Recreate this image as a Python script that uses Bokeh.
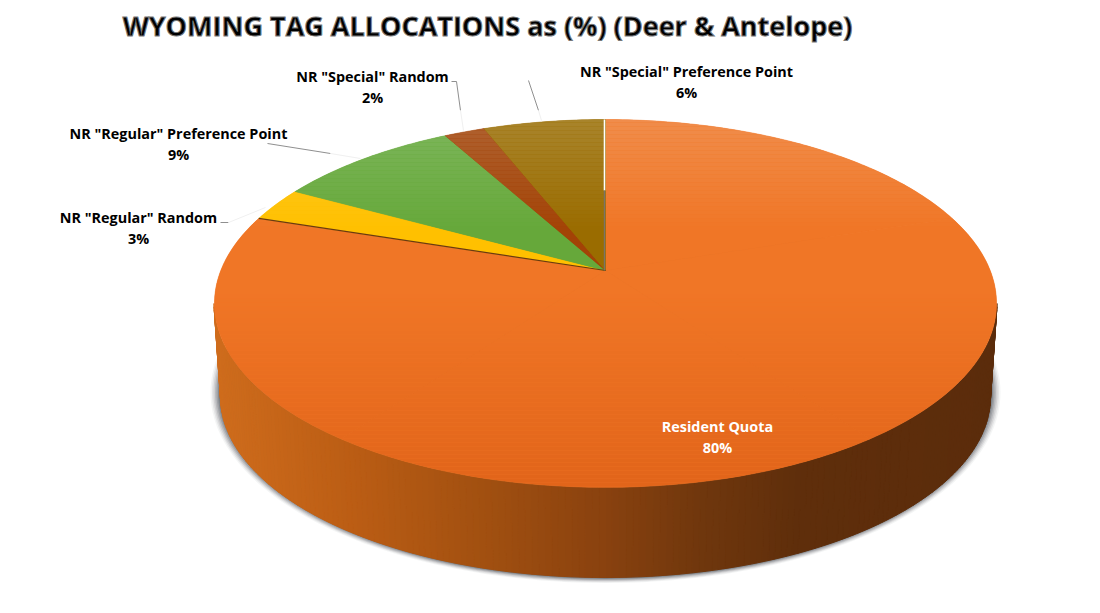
import math
from bokeh.plotting import figure
from bokeh.core.properties import value
from bokeh.embed import file_html
from bokeh.resources import INLINE

# ---- chart data ----
categories = ["Resident Quota", 'NR "Regular" Random', 'NR "Regular" Preference Point',
              'NR "Special" Random', 'NR "Special" Preference Point']
shares = [80, 3, 9, 2, 6]
slice_colors = ["#F07626", "#FFC000", "#66A83A", "#A34306", "#9A6C00"]
title_text = "WYOMING TAG ALLOCATIONS as (%) (Deer & Antelope)"
label_x = [717, 138, 178, 372, 686]
label_y = [426, 217, 133, 76, 71]
label_colors = ["white", "black", "black", "black", "black"]

# ---- projection of the pie ----
CX, CY = 605.0, 270.0
R, B, K = 384.7, 178.0, 0.179


def project(frac):
    a = 2 * math.pi * frac
    u, v = math.sin(a), math.cos(a)
    d = 1 + K * v
    return CX + R * u / d, CY - B * v / d


def rgb(h):
    return tuple(int(h[i:i + 2], 16) for i in (1, 3, 5))


def mix(c, d, t):
    return tuple(a + (b - a) * t for a, b in zip(c, d))


def hexc(c):
    return "#%02x%02x%02x" % tuple(int(round(v)) for v in c)


def top_color(base, y):
    c = rgb(base)
    if y < 230:
        return hexc(mix(c, (238, 250, 255), 0.17 * (230 - y) / 111))
    return hexc(mix(c, (226, 101, 26), max(0.0, min(1.0, (y - 290) / 190))))


def clip(poly, y0, keep_below):
    out = []
    n = len(poly)
    for i in range(n):
        a, b = poly[i], poly[(i + 1) % n]
        ia = (a[1] >= y0) if keep_below else (a[1] <= y0)
        ib = (b[1] >= y0) if keep_below else (b[1] <= y0)
        if ia:
            out.append(a)
        if ia != ib:
            s = (y0 - a[1]) / (b[1] - a[1])
            out.append((a[0] + (b[0] - a[0]) * s, y0))
    return out


p = figure(width=1084, height=597, x_range=(0, 1084), y_range=(597, 0),
           output_backend="svg", toolbar_location=None, min_border=0,
           outline_line_color=None, background_fill_color="white",
           border_fill_color="white")
p.axis.visible = False
p.grid.visible = False

# ---- soft shadow under the pie ----
BCY, BRX, BRY = 396.0, 385.0, 181.0
for grow, alpha in [(10, .06), (8.5, .09), (7, .13), (5.5, .17), (4, .22), (2.5, .3), (1.2, .4)]:
    xs = [CX + (BRX + grow) * math.cos(2 * math.pi * i / 240) for i in range(240)]
    ys = [BCY - 4 + (BRY + 4 + grow * .55) * math.sin(2 * math.pi * i / 240) for i in range(240)]
    p.patch(xs, ys, fill_color="#4a4f55", fill_alpha=alpha, line_color=None)

# ---- outer wall ----
TCY, TRX, TRY = 303.0, 391.5, 184.0
wall_stops = [(214, "#CF6C1C"), (350, "#BB5D14"), (490, "#A04F10"), (600, "#8A420F"),
              (700, "#70370D"), (800, "#5F2E0B"), (1000, "#5B2C0B")]


def wall_color(x):
    for (x0, c0), (x1, c1) in zip(wall_stops, wall_stops[1:]):
        if x <= x1:
            return hexc(mix(rgb(c0), rgb(c1), (x - x0) / (x1 - x0)))
    return wall_stops[-1][1]


wx, wy, wc = [], [], []
N = 180
for i in range(N):
    t0, t1 = math.pi * i / N, math.pi * (i + 1) / N
    a = (CX + TRX * math.cos(t0), TCY + TRY * math.sin(t0))
    b = (CX + TRX * math.cos(t1), TCY + TRY * math.sin(t1))
    c = (CX + BRX * math.cos(t1), BCY + BRY * math.sin(t1))
    d = (CX + BRX * math.cos(t0), BCY + BRY * math.sin(t0))
    wx.append([a[0], b[0], c[0], d[0]])
    wy.append([a[1], b[1], c[1], d[1]])
    wc.append(wall_color((a[0] + b[0]) / 2))
p.patches(wx, wy, fill_color=wc, line_color=wc, line_width=1.0)

# ---- top face: every wedge cut into thin horizontal bands for the gradient ----
start = 0.0
total = float(sum(shares))
for share, col in zip(shares, slice_colors):
    f0, f1 = start / total, (start + share) / total
    pieces = max(1, int(math.ceil((f1 - f0) / 0.2)))
    bx, by, bc = [], [], []
    for k in range(pieces):
        g0 = f0 + (f1 - f0) * k / pieces
        g1 = f0 + (f1 - f0) * (k + 1) / pieces
        steps = max(3, int((g1 - g0) * 360))
        poly = [(CX, CY)] + [project(g0 + (g1 - g0) * j / steps) for j in range(steps + 1)]
        p.patch([q[0] for q in poly], [q[1] for q in poly], fill_color=col, line_color=col, line_width=0.5)
        y = 118.0
        while y < 490:
            band = clip(clip(poly, y, True), y + 4, False)
            if len(band) >= 3:
                bx.append([q[0] for q in band])
                by.append([q[1] for q in band])
                bc.append(top_color(col, y + 2))
            y += 4
    p.patches(bx, by, fill_color=bc, line_color=None)
    start += share

# ---- edges between wedges ----
ex, ey = project(shares[0] / total)
p.line([ex, CX], [ey, CY], line_color="#6b3a12", line_width=1.2)
tx, ty = project(0.0)
p.line([tx - 1, CX - 1], [ty, 190], line_color="white", line_width=1.6)
p.line([tx - 1, CX - 1], [190, CY], line_color="#7a7468", line_width=1.4)

# ---- leader lines ----
lead_x = [[220, 228], [267, 330], [451, 456, 460], [528, 538]]
lead_y = [[222, 222], [143, 153], [81, 81, 110], [80, 110]]
p.multi_line(lead_x, lead_y, line_color="#8f8f8f", line_width=1)
fade_x = [[228, 265], [330, 360], [460, 463], [538, 541]]
fade_y = [[222, 207], [153, 158], [110, 130], [110, 120]]
p.multi_line(fade_x, fade_y, line_color="#f0f0f0", line_width=1)

# ---- labels ----
names_x, names_y, names_t, names_c = [], [], [], []
for cat, share, x, y, c in zip(categories, shares, label_x, label_y, label_colors):
    names_x += [x, x]
    names_y += [y, y + 21]
    names_t += [cat, f"{share}%"]
    names_c += [c, c]
p.text(names_x, names_y, text=names_t, text_color=names_c, text_font=value("Open Sans"),
       text_font_style="bold", text_font_size="14.4px", text_align="center",
       text_baseline="middle")

p.text([487], [25], text=[title_text], text_color="black", text_font=value("Open Sans"),
       text_font_style="bold", text_font_size="27px", text_align="center",
       text_baseline="middle", text_outline_color="#777777")

open("out.html", "w").write(file_html(p, INLINE))
